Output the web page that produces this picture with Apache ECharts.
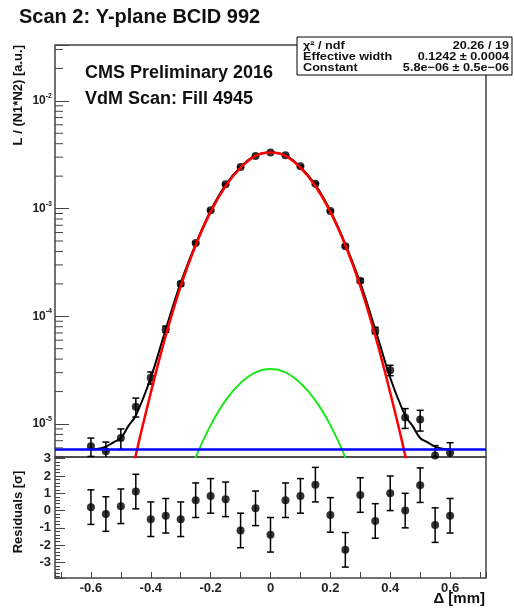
<!DOCTYPE html>
<html>
<head>
<meta charset="utf-8">
<script src="https://cdn.jsdelivr.net/npm/echarts@6/dist/echarts.min.js"></script>
<style>
html, body { margin: 0; padding: 0; background: #fff; }
#main { width: 514px; height: 610px; }
</style>
</head>
<body>
<div id="main"></div>
<script>
const FONT = "'Liberation Sans', Arial, Helvetica, sans-serif";

// scan points (separation in mm)
const scanX = [-0.6, -0.55, -0.5, -0.45, -0.4, -0.35, -0.3, -0.25, -0.2, -0.15, -0.1, -0.05, 0,
  0.05, 0.1, 0.15, 0.2, 0.25, 0.3, 0.35, 0.4, 0.45, 0.5, 0.55, 0.6];
const lumi = [6.2e-6, 5.6e-6, 7.4e-6, 1.45e-5, 2.69e-5, 7.6e-5, 2.0e-4, 4.8e-4, 9.64e-4, 1.68e-3, 2.43e-3, 3.07e-3, 3.31e-3,
  3.12e-3, 2.47e-3, 1.70e-3, 9.5e-4, 4.47e-4, 2.14e-4, 7.4e-5, 3.16e-5, 1.15e-5, 1.10e-5, 5.1e-6, 5.4e-6];
const lumiErr = [1.2e-6, 1.2e-6, 1.6e-6, 2.9e-6, 3.5e-6, 5e-6, 8e-6, 1.2e-5, 1.7e-5, 2.2e-5, 2.6e-5, 3e-5, 3e-5,
  3e-5, 2.6e-5, 2.2e-5, 1.7e-5, 1.2e-5, 8e-6, 5e-6, 3.5e-6, 2.4e-6, 2.4e-6, 1.2e-6, 1.3e-6];
const residuals = [0.2, -0.2, 0.25, 1.1, -0.5, -0.3, -0.5, 0.6, 0.85, 0.65, -1.15, 0.13, -1.4,
  0.6, 0.85, 1.5, -0.25, -2.27, 0.9, -0.6, 1.0, 0.0, 1.47, -0.84, -0.3];
const residualErr = [1, 1, 1, 1, 1, 1, 1, 1, 1, 1, 1, 1, 1, 1, 1, 1, 1, 1, 1, 1, 1, 1, 1, 1, 1];

// fit curves
const fitX = [-0.6, -0.575, -0.55, -0.525, -0.5, -0.475, -0.45, -0.4, -0.35, -0.3, -0.25, -0.2, -0.15, -0.1, -0.05, 0,
  0.05, 0.1, 0.15, 0.2, 0.25, 0.3, 0.35, 0.4, 0.45, 0.475, 0.5, 0.525, 0.55, 0.575, 0.6];
const fitTotal = [5.82e-6, 5.89e-6, 6.17e-6, 6.76e-6, 7.41e-6, 9.55e-6, 1.2e-5, 2.69e-5, 7.59e-5, 2.04e-4, 4.68e-4, 9.55e-4, 1.66e-3, 2.43e-3, 3.11e-3, 3.31e-3,
  3.11e-3, 2.43e-3, 1.66e-3, 9.55e-4, 4.68e-4, 2.04e-4, 7.59e-5, 2.69e-5, 1.2e-5, 9.55e-6, 7.41e-6, 6.76e-6, 6.17e-6, 5.89e-6, 5.82e-6];
const mainX = [-0.5, -0.45, -0.4, -0.35, -0.3, -0.25, -0.2, -0.15, -0.1, -0.05, 0,
  0.05, 0.1, 0.15, 0.2, 0.25, 0.3, 0.35, 0.4, 0.45, 0.5];
const mainGaus = [1.12e-6, 5.13e-6, 1.95e-5, 6.61e-5, 1.91e-4, 4.57e-4, 9.33e-4, 1.62e-3, 2.4e-3, 3.09e-3, 3.31e-3,
  3.09e-3, 2.4e-3, 1.62e-3, 9.33e-4, 4.57e-4, 1.91e-4, 6.61e-5, 1.95e-5, 5.13e-6, 1.12e-6];
const secondX = [-0.3, -0.25, -0.2, -0.15, -0.1, -0.05, 0, 0.05, 0.1, 0.15, 0.2, 0.25, 0.3];
const secondGaus = [2.14e-6, 4.9e-6, 9.77e-6, 1.66e-5, 2.4e-5, 3.02e-5, 3.24e-5, 3.02e-5, 2.4e-5, 1.66e-5, 9.77e-6, 4.9e-6, 2.14e-6];
const constLevel = 5.8e-6;

// axes
const xMin = -0.72, xMax = 0.72;
const yMin = 4.94e-6, yMax = 0.033;
const resMin = -3.9, resMax = 3.1;
const xLabelValues = [-0.6, -0.4, -0.2, 0, 0.2, 0.4, 0.6];
const resLabelValues = [-3, -2, -1, 0, 1, 2, 3];
const logLabelValues = [1e-5, 1e-4, 1e-3, 1e-2];
const logMinorTicks = [];
[1e-6, 1e-5, 1e-4, 1e-3, 1e-2].forEach(function (d) {
  for (let m = 2; m <= 9; m++) {
    const v = m * d;
    if (v > yMin && v < yMax) logMinorTicks.push(v);
  }
});

function near(list, v, eps) {
  return list.some(function (t) { return Math.abs(t - v) < eps; });
}

function errorBars(params, api) {
  const x = api.value(0);
  const lo = api.coord([x, api.value(1)]);
  const hi = api.coord([x, api.value(2)]);
  const cs = params.coordSys;
  const bottom = cs.y + cs.height;
  const yLo = Math.min(lo[1], bottom);
  const yHi = Math.max(hi[1], cs.y);
  const style = { stroke: '#000', lineWidth: 1.5, fill: null };
  const kids = [{ type: 'line', shape: { x1: lo[0], y1: yLo, x2: lo[0], y2: yHi }, style: style }];
  if (hi[1] >= cs.y) kids.push({ type: 'line', shape: { x1: hi[0] - 3.5, y1: hi[1], x2: hi[0] + 3.5, y2: hi[1] }, style: style });
  if (lo[1] <= bottom) kids.push({ type: 'line', shape: { x1: lo[0] - 3.5, y1: lo[1], x2: lo[0] + 3.5, y2: lo[1] }, style: style });
  return { type: 'group', children: kids };
}

function minorTicks(params, api) {
  const p = api.coord([api.value(0), api.value(1)]);
  const cs = params.coordSys;
  return { type: 'line', shape: { x1: cs.x, y1: p[1], x2: cs.x + 8, y2: p[1] }, style: { stroke: '#444', lineWidth: 1 } };
}

const labelStyle = { fontFamily: FONT, fontWeight: 'bold', fontSize: 13, color: '#222' };
const boldFont = function (size) { return 'bold ' + size + 'px ' + FONT; };
const statsText = function (x, y, text, align) {
  return { type: 'text', x: x, y: y, z: 101, scaleX: 1.15,
    style: { text: text, font: boldFont(11), fill: '#111', align: align, verticalAlign: 'middle' } };
};

const chart = echarts.init(document.getElementById('main'));
chart.setOption({
  animation: false,
  backgroundColor: '#fff',
  title: {
    text: 'Scan 2: Y-plane BCID 992', left: 14, top: 2,
    textStyle: { fontFamily: FONT, fontWeight: 'bold', fontSize: 20, color: '#111' }
  },
  grid: [
    { left: 55, top: 45, width: 431, height: 412, show: true, borderColor: '#444', borderWidth: 1.5, backgroundColor: 'transparent' },
    { left: 55, top: 457, width: 431, height: 121, show: true, borderColor: '#444', borderWidth: 1.5, backgroundColor: 'transparent' }
  ],
  xAxis: [
    { gridIndex: 0, type: 'value', min: xMin, max: xMax, show: false },
    {
      gridIndex: 1, type: 'value', min: xMin, max: xMax, minInterval: 0.1, maxInterval: 0.1,
      axisLine: { show: false, onZero: false },
      axisTick: { inside: true, length: 6, lineStyle: { color: '#444' } },
      splitLine: { show: false },
      axisLabel: Object.assign({
        margin: 4,
        formatter: function (v) {
          if (!near(xLabelValues, v, 1e-6)) return '';
          return Math.abs(v) < 1e-9 ? '0' : v.toFixed(1);
        }
      }, labelStyle)
    }
  ],
  yAxis: [
    {
      gridIndex: 0, type: 'log', logBase: 10, min: yMin, max: yMax,
      axisLine: { show: false, onZero: false },
      axisTick: { inside: true, length: 14, lineStyle: { color: '#444' } },
      splitLine: { show: false },
      axisLabel: {
        margin: 3,
        formatter: function (v) {
          if (!near(logLabelValues.map(Math.log10), Math.log10(v), 1e-6)) return '';
          return '{b|10}{e|' + Math.round(Math.log10(v)) + '}';
        },
        rich: {
          b: { fontFamily: FONT, fontWeight: 'bold', fontSize: 12, color: '#222', lineHeight: 17 },
          e: { fontFamily: FONT, fontWeight: 'bold', fontSize: 7, color: '#222', verticalAlign: 'top' }
        }
      }
    },
    {
      gridIndex: 1, type: 'value', min: resMin, max: resMax, minInterval: 1, maxInterval: 1,
      axisLine: { show: false, onZero: false },
      axisTick: { inside: true, length: 10, lineStyle: { color: '#444' } },
      minorTick: { show: true, splitNumber: 5, length: 5, lineStyle: { color: '#444' } },
      splitLine: { show: false },
      axisLabel: Object.assign({
        margin: 4,
        formatter: function (v) {
          return near(resLabelValues, v, 1e-6) ? String(Math.round(v)) : '';
        }
      }, labelStyle)
    }
  ],
  series: [
    {
      type: 'custom', xAxisIndex: 0, yAxisIndex: 0, z: 2, silent: true,
      renderItem: errorBars, encode: { x: 0, y: [1, 2] },
      data: scanX.map(function (x, i) { return [x, lumi[i] - lumiErr[i], lumi[i] + lumiErr[i]]; })
    },
    {
      type: 'scatter', xAxisIndex: 0, yAxisIndex: 0, z: 3, silent: true,
      symbol: 'circle', symbolSize: 8, itemStyle: { color: '#000' },
      data: scanX.map(function (x, i) { return [x, lumi[i]]; })
    },
    {
      type: 'line', xAxisIndex: 0, yAxisIndex: 0, z: 4, silent: true, symbol: 'none', smooth: 0.4,
      lineStyle: { color: '#000', width: 2 },
      data: fitX.map(function (x, i) { return [x, fitTotal[i]]; })
    },
    {
      type: 'line', xAxisIndex: 0, yAxisIndex: 0, z: 5, silent: true, symbol: 'none', smooth: 0.4,
      lineStyle: { color: '#ff0000', width: 2.5 },
      data: mainX.map(function (x, i) { return [x, mainGaus[i]]; })
    },
    {
      type: 'line', xAxisIndex: 0, yAxisIndex: 0, z: 5, silent: true, symbol: 'none', smooth: 0.4,
      lineStyle: { color: '#1ee61e', width: 2 },
      data: secondX.map(function (x, i) { return [x, secondGaus[i]]; })
    },
    {
      type: 'line', xAxisIndex: 0, yAxisIndex: 0, z: 6, silent: true, symbol: 'none',
      lineStyle: { color: '#0000ff', width: 2.5 },
      data: [[xMin, constLevel], [xMax, constLevel]]
    },
    {
      type: 'custom', xAxisIndex: 0, yAxisIndex: 0, z: 7, silent: true,
      renderItem: minorTicks,
      data: logMinorTicks.map(function (v) { return [xMin, v]; })
    },
    {
      type: 'custom', xAxisIndex: 1, yAxisIndex: 1, z: 2, silent: true,
      renderItem: errorBars, encode: { x: 0, y: [1, 2] },
      data: scanX.map(function (x, i) { return [x, residuals[i] - residualErr[i], residuals[i] + residualErr[i]]; })
    },
    {
      type: 'scatter', xAxisIndex: 1, yAxisIndex: 1, z: 3, silent: true,
      symbol: 'circle', symbolSize: 8, itemStyle: { color: '#000' },
      data: scanX.map(function (x, i) { return [x, residuals[i]]; })
    }
  ],
  graphic: [
    { type: 'text', x: 85, y: 73, z: 50, style: { text: 'CMS Preliminary 2016', font: boldFont(18), fill: '#111', verticalAlign: 'middle' } },
    { type: 'text', x: 85, y: 99, z: 50, style: { text: 'VdM Scan: Fill 4945', font: boldFont(18), fill: '#111', verticalAlign: 'middle' } },
    { type: 'rect', z: 100, shape: { x: 297, y: 37, width: 215, height: 38 }, style: { fill: '#fff', stroke: '#000', lineWidth: 1 } },
    statsText(303, 45.5, 'χ² / ndf', 'left'),
    statsText(509, 45.5, '20.26 / 19', 'right'),
    statsText(303, 57, 'Effective width', 'left'),
    statsText(509, 57, '0.1242 ± 0.0004', 'right'),
    statsText(303, 68, 'Constant', 'left'),
    statsText(509, 68, '5.8e−06 ± 0.5e−06', 'right'),
    { type: 'text', x: 18, y: 45, rotation: Math.PI / 2, z: 50, style: { text: 'L / (N1*N2) [a.u.]', font: boldFont(13), fill: '#111', align: 'right', verticalAlign: 'middle' } },
    { type: 'text', x: 18, y: 512, rotation: Math.PI / 2, z: 50, style: { text: 'Residuals [σ]', font: boldFont(13), fill: '#111', align: 'center', verticalAlign: 'middle' } },
    { type: 'text', x: 485, y: 599, z: 50, style: { text: 'Δ [mm]', font: boldFont(15), fill: '#111', align: 'right', verticalAlign: 'middle' } }
  ]
});
</script>
</body>
</html>
